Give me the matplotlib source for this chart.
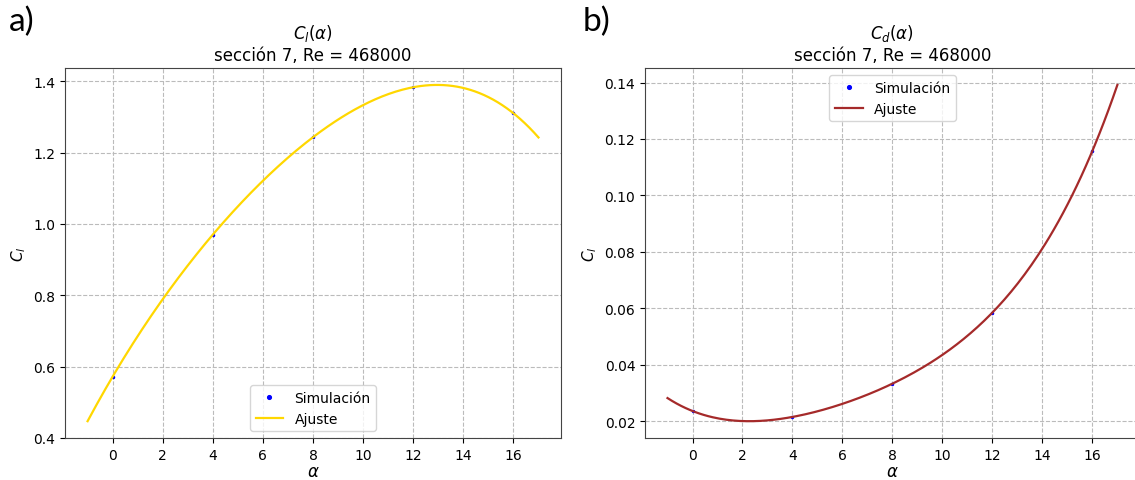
import numpy as np
import matplotlib.pyplot as plt

# angulos de ataque simulados (grados)
alpha_sim = [0, 4, 8, 12, 16]
cl_sim = [0.572, 0.970, 1.243, 1.383, 1.310]
cd_sim = [0.0236, 0.0215, 0.0333, 0.0585, 0.1158]

alpha_range = [-1, 17]
seccion = 7
reynolds = 468000


def dibujar(ax, y_sim, color, titulo, loc, grado):
    coef = np.polyfit(alpha_sim, y_sim, grado)
    a = np.linspace(alpha_range[0], alpha_range[1], 200)
    ax.plot(alpha_sim, y_sim, 'b.', ms=3, label='Simulación')
    ax.plot(a, np.polyval(coef, a), color=color, lw=1.6, label='Ajuste')
    ax.set_title(titulo + '\nsección %d, Re = %d' % (seccion, reynolds))
    ax.set_xlabel(r'$\alpha$', fontsize=12, labelpad=0)
    ax.set_ylabel(r'$C_l$', fontsize=11)
    ax.set_xticks(range(0, 17, 2))
    ax.grid(True, ls='--', color='#bbbbbb', lw=0.8)
    for s in ax.spines.values():
        s.set_color('#444444')
    ax.legend(loc=loc, markerscale=1.8)


fig = plt.figure(figsize=(11.35, 4.81), dpi=100)
ax1 = fig.add_axes([0.0573, 0.0873, 0.437, 0.769])
ax2 = fig.add_axes([0.5683, 0.0873, 0.436, 0.769])

dibujar(ax1, cl_sim, 'gold', r'$C_l(\alpha)$', 'lower center', 4)
dibujar(ax2, cd_sim, 'brown', r'$C_d(\alpha)$', 'upper center', 4)

fig.text(0.008, 0.955, 'a)', fontsize=24, family='Lato', va='center')
fig.text(0.513, 0.955, 'b)', fontsize=24, family='Lato', va='center')

fig.savefig('out.png', dpi=100)
